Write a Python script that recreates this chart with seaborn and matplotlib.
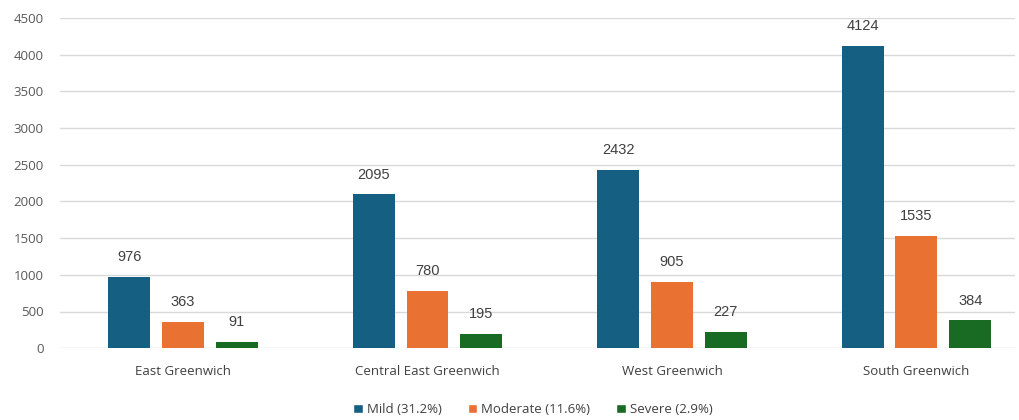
import numpy as np
import pandas as pd
import matplotlib.pyplot as plt
import seaborn as sns
from matplotlib.patches import Patch

# ---- data ----
areas = ["East Greenwich", "Central East Greenwich", "West Greenwich", "South Greenwich"]
severity = ["Mild (31.2%)", "Moderate (11.6%)", "Severe (2.9%)"]
mild = [976, 2095, 2432, 4124]
moderate = [363, 780, 905, 1535]
severe = [91, 195, 227, 384]

colors = ["#156082", "#E97132", "#196B24"]

df = pd.DataFrame({
    "area": areas * 3,
    "severity": [severity[0]] * 4 + [severity[1]] * 4 + [severity[2]] * 4,
    "count": mild + moderate + severe,
})

sns.set_theme(style="white")
plt.rcParams["font.family"] = ["Open Sans", "DejaVu Sans"]

fig = plt.figure(figsize=(10.19, 4.2), dpi=100)
ax = fig.add_axes([0.059, 0.171, 0.937, 0.786])

sns.barplot(data=df, x="area", y="count", hue="severity", palette=colors,
            width=0.66, gap=0.22, ax=ax, legend=False, saturation=1,
            linewidth=0, edgecolor="none")

for c in ax.containers:
    ax.bar_label(c, padding=9, fontsize=10.5, color="#404040",
                 family=["Liberation Sans", "DejaVu Sans"])

ax.set_ylim(0, 4500)
ax.set_xlim(-0.503, 3.403)
ax.set_yticks(np.arange(0, 4501, 500))
ax.yaxis.grid(True, color="#d9d9d9", linewidth=1)
ax.set_axisbelow(True)
for s in ax.spines.values():
    s.set_visible(False)
ax.tick_params(axis="y", labelsize=9.5, labelcolor="#595959", pad=12, length=0)
ax.tick_params(axis="x", labelsize=9.5, labelcolor="#404040", pad=12, length=0)
ax.set_xlabel("")
ax.set_ylabel("")

handles = [Patch(facecolor=c, label=l) for c, l in zip(colors, severity)]
fig.legend(handles=handles, loc="center", bbox_to_anchor=(0.523, 0.025), ncol=3,
           frameon=False, fontsize=9.5, handlelength=0.7, handleheight=0.7,
           handletextpad=0.3, columnspacing=2.0, labelcolor="#404040")

fig.savefig("out.png", dpi=100)
